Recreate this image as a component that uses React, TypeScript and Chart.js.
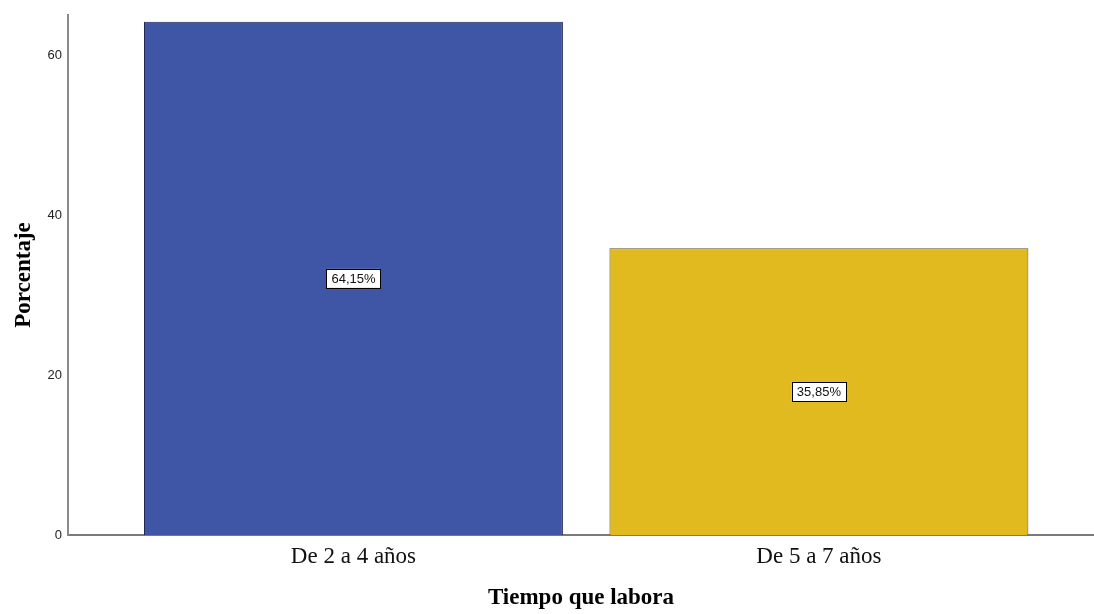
import React, { useEffect, useRef } from "react";
import { Chart, registerables } from "chart.js";

Chart.register(...registerables);

// Share of respondents by time on the job
const categories: string[] = ["De 2 a 4 años", "De 5 a 7 años"];
const percentages: number[] = [64.15, 35.85];
const barColors: string[] = ["#3E56A5", "#E0BA1E"];
const barBorders: string[] = ["#1E2550", "#5E5020"];
const yTicks: number[] = [0, 20, 40, 60];

const fmtPct = (v: number) => v.toFixed(2).replace(".", ",") + "%";

// Boxed value labels centred in each bar
const boxedLabels = {
  id: "boxedLabels",
  afterDatasetsDraw(chart: any) {
    const { ctx } = chart;
    const meta = chart.getDatasetMeta(0);
    ctx.save();
    ctx.font = "13px 'Liberation Sans', Arial, sans-serif";
    ctx.textAlign = "center";
    ctx.textBaseline = "middle";
    meta.data.forEach((bar: any, i: number) => {
      const text = fmtPct(percentages[i]);
      const cx = bar.x;
      const cy = (bar.y + bar.base) / 2;
      const w = ctx.measureText(text).width + 10;
      const h = 19;
      ctx.fillStyle = "#ffffff";
      ctx.fillRect(cx - w / 2, cy - h / 2, w, h);
      ctx.strokeStyle = "#000000";
      ctx.lineWidth = 1;
      ctx.strokeRect(Math.round(cx - w / 2) + 0.5, Math.round(cy - h / 2) + 0.5, Math.round(w), h);
      ctx.fillStyle = "#111111";
      ctx.fillText(text, cx, cy + 1);
    });
    ctx.restore();
  },
};

export default function App() {
  const canvasRef = useRef<HTMLCanvasElement | null>(null);

  useEffect(() => {
    if (!canvasRef.current) return;
    const chart = new Chart(canvasRef.current, {
      type: "bar",
      data: {
        datasets: [
          {
            data: percentages.map((v, i) => ({ x: i, y: v })),
            backgroundColor: barColors,
            borderColor: barBorders,
            borderWidth: 1,
            barPercentage: 0.9,
            categoryPercentage: 1,
          },
        ],
      },
      options: {
        responsive: false,
        animation: false,
        layout: { padding: { top: 15, right: 0, bottom: 0, left: 0 } },
        plugins: {
          legend: { display: false },
          tooltip: { enabled: false },
        },
        scales: {
          x: {
            type: "linear",
            offset: false,
            min: -0.6133,
            max: 1.591,
            grid: { display: false, drawTicks: false, offset: false },
            border: { color: "#7a7a7a", width: 2 },
            afterBuildTicks: (scale: any) => {
              scale.ticks = categories.map((_, i) => ({ value: i }));
            },
            afterFit: (scale: any) => {
              scale.height = 79;
            },
            ticks: {
              padding: 8,
              autoSkip: false,
              maxRotation: 0,
              color: "#111111",
              font: { family: "'Liberation Serif', 'Times New Roman', serif", size: 23 },
              callback: (v: any) => categories[v as number] ?? "",
            },
            title: {
              display: true,
              text: "Tiempo que labora",
              color: "#000000",
              font: { family: "'Liberation Serif', 'Times New Roman', serif", size: 23, weight: "bold" },
              padding: { top: 0, bottom: 2 },
            },
          },
          y: {
            min: 0,
            max: 65,
            grid: { display: false, drawTicks: false },
            border: { color: "#8a8a8a", width: 2 },
            afterBuildTicks: (scale: any) => {
              scale.ticks = yTicks.map((v) => ({ value: v }));
            },
            afterFit: (scale: any) => {
              scale.width = 68;
            },
            ticks: {
              padding: 6,
              color: "#222222",
              font: { family: "'Liberation Sans', Arial, sans-serif", size: 13 },
            },
            title: {
              display: true,
              text: "Porcentaje",
              color: "#000000",
              font: { family: "'Liberation Serif', 'Times New Roman', serif", size: 23, weight: "bold" },
              padding: { top: 10, bottom: 0 },
            },
          },
        },
      },
      plugins: [boxedLabels],
    } as any);
    return () => chart.destroy();
  }, []);

  return (
    <div style={{ position: "fixed", left: 0, top: 0, width: 1094, height: 614, background: "#ffffff" }}>
      <canvas ref={canvasRef} width={1094} height={614} />
    </div>
  );
}
